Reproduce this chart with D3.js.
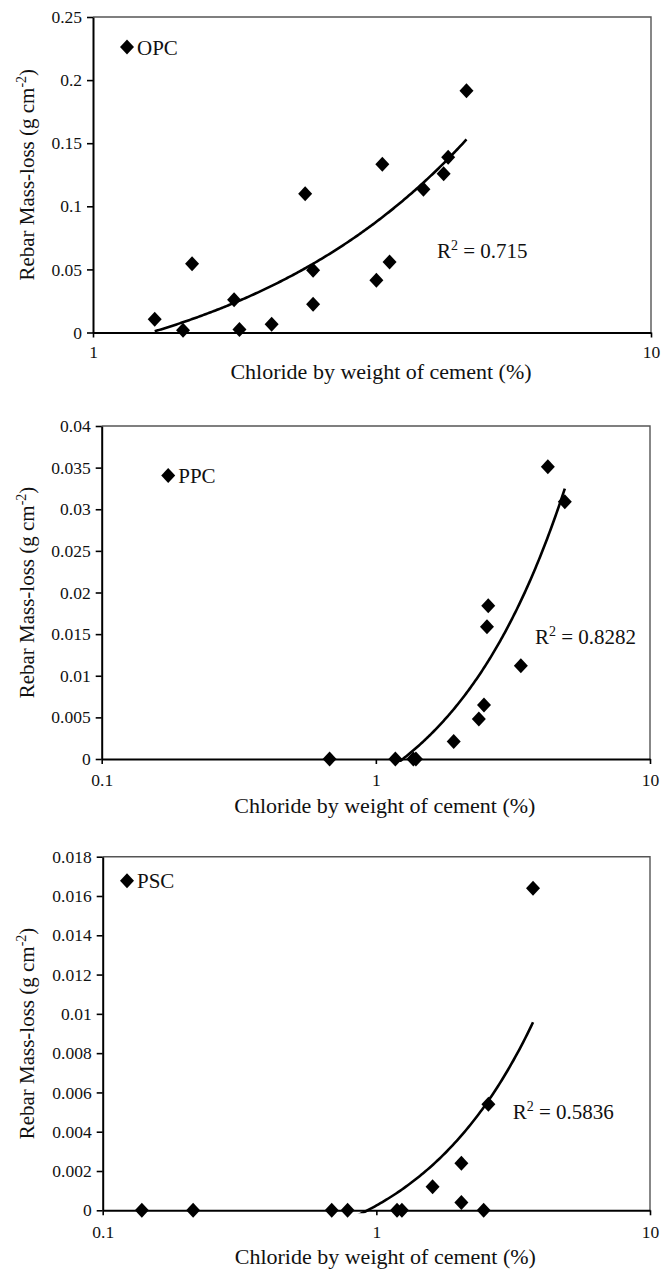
<!DOCTYPE html>
<html>
<head>
<meta charset="utf-8">
<script src="https://cdn.jsdelivr.net/npm/d3@7"></script>
<style>
  html, body { margin: 0; padding: 0; background: #fff; }
  svg { display: block; }
  text { font-family: "Liberation Serif", "Times New Roman", serif; fill: #111; }
</style>
</head>
<body>
<svg id="chart" width="672" height="1269"></svg>
<script>
// Rebar mass loss against chloride content, one panel per cement type.
const cementTypes = ["OPC", "PPC", "PSC"];

const opcChloride = [1.29, 1.45, 1.505, 1.79, 1.83, 2.09, 2.40, 2.48, 2.48, 3.22, 3.30, 3.40, 3.91, 4.25, 4.33, 4.67];
const opcMassLoss = [0.0105, 0.0018, 0.0545, 0.026, 0.0024, 0.0066, 0.110, 0.0493, 0.0224, 0.0414, 0.1333, 0.0558, 0.1135, 0.1257, 0.1388, 0.1915];

const ppcChloride = [0.678, 1.178, 1.37, 1.40, 1.923, 2.375, 2.48, 2.543, 2.57, 3.38, 4.24, 4.89];
const ppcMassLoss = [0, 0, 0, 0, 0.0021, 0.0048, 0.0065, 0.0159, 0.0184, 0.0112, 0.0351, 0.0309];

const pscChloride = [0.139, 0.214, 0.687, 0.785, 1.19, 1.24, 1.605, 2.045, 2.045, 2.467, 2.567, 3.737];
const pscMassLoss = [0, 0, 0, 0, 0, 0, 0.0012, 0.0024, 0.0004, 0, 0.0054, 0.0164];

const r2Labels = ["0.715", "0.8282", "0.5836"];

const opcXTicks = [1, 10];
const ppcXTicks = [0.1, 1, 10];
const pscXTicks = [0.1, 1, 10];
const opcYTicks = [0, 0.05, 0.1, 0.15, 0.2, 0.25];
const ppcYTicks = [0, 0.005, 0.01, 0.015, 0.02, 0.025, 0.03, 0.035, 0.04];
const pscYTicks = [0, 0.002, 0.004, 0.006, 0.008, 0.01, 0.012, 0.014, 0.016, 0.018];

const xTitle = "Chloride by weight of cement (%)";

// Plot frames and annotation placement for each panel
const layout = [
  { l: 93,    r: 651, t: 17,    b: 332.5,  legend: [34, 30],     r2: [437, 250],      titleGap: 46, tickPad: 8 },
  { l: 101.7, r: 650, t: 426,   b: 759,    legend: [66.5, 49.5], r2: [535, 636],      titleGap: 54, tickPad: 10 },
  { l: 102.7, r: 650, t: 856.7, b: 1210.3, legend: [24.3, 24],   r2: [512.7, 1111.6], titleGap: 54, tickPad: 10 }
];

const panels = [
  { name: cementTypes[0], xs: opcChloride, ys: opcMassLoss, xTicks: opcXTicks, yTicks: opcYTicks, r2: r2Labels[0] },
  { name: cementTypes[1], xs: ppcChloride, ys: ppcMassLoss, xTicks: ppcXTicks, yTicks: ppcYTicks, r2: r2Labels[1] },
  { name: cementTypes[2], xs: pscChloride, ys: pscMassLoss, xTicks: pscXTicks, yTicks: pscYTicks, r2: r2Labels[2] }
];

const svg = d3.select("#chart");
svg.append("rect").attr("width", 672).attr("height", 1269).attr("fill", "#fff");

const diamond = "M0,-7.5L7,0L0,7.5L-7,0Z";
const fmtY = d => d === 0 ? "0" : String(+d.toFixed(4));

// Ordinary least-squares line through the points
function linearFit(xs, ys) {
  const n = xs.length;
  const mx = d3.mean(xs), my = d3.mean(ys);
  let sxy = 0, sxx = 0;
  for (let i = 0; i < n; i++) {
    sxy += (xs[i] - mx) * (ys[i] - my);
    sxx += (xs[i] - mx) * (xs[i] - mx);
  }
  const slope = sxy / sxx;
  return { slope, intercept: my - slope * mx };
}

panels.forEach((p, i) => {
  const L = layout[i];
  const x = d3.scaleLog().domain([p.xTicks[0], p.xTicks[p.xTicks.length - 1]]).range([L.l, L.r]);
  const y = d3.scaleLinear().domain([0, p.yTicks[p.yTicks.length - 1]]).range([L.b, L.t]);
  const g = svg.append("g");

  // frame: top and right edges
  g.append("path")
    .attr("d", `M${L.l},${L.t}H${L.r}V${L.b}`)
    .attr("fill", "none").attr("stroke", "#555").attr("stroke-width", 1.4);

  // clip region for the trend line
  const clipId = "clip" + i;
  svg.append("clipPath").attr("id", clipId)
    .append("rect").attr("x", L.l).attr("y", L.t).attr("width", L.r - L.l).attr("height", L.b - L.t + 3);

  // trend line (linear fit drawn on the log axis)
  const fit = linearFit(p.xs, p.ys);
  const x0 = d3.min(p.xs), x1 = d3.max(p.xs);
  const lx = d3.range(0, 201).map(k => Math.exp(Math.log(x0) + (Math.log(x1) - Math.log(x0)) * k / 200));
  g.append("path")
    .datum(lx)
    .attr("clip-path", `url(#${clipId})`)
    .attr("d", d3.line().x(d => x(d)).y(d => y(fit.slope * d + fit.intercept)))
    .attr("fill", "none").attr("stroke", "#000").attr("stroke-width", 2.6);

  // axes
  const ya = g.append("g").attr("transform", `translate(${L.l},0)`)
    .call(d3.axisLeft(y).tickValues(p.yTicks).tickSize(6).tickPadding(5).tickSizeOuter(0).tickFormat(fmtY));
  const xa = g.append("g").attr("transform", `translate(0,${L.b})`)
    .call(d3.axisBottom(x).tickValues(p.xTicks).tickSize(5).tickPadding(L.tickPad).tickSizeOuter(0).tickFormat(d => String(d)));
  [ya, xa].forEach(a => {
    a.select(".domain").attr("stroke", "#000").attr("stroke-width", 2);
    a.selectAll(".tick line").attr("stroke", "#000").attr("stroke-width", 1.6);
    a.selectAll(".tick text")
      .attr("fill", "#111")
      .style("font-family", '"Liberation Serif", "Times New Roman", serif')
      .style("font-size", "17.5px");
  });

  // data points
  g.append("g").selectAll("path")
    .data(p.xs.map((v, k) => [v, p.ys[k]]))
    .join("path")
    .attr("transform", d => `translate(${x(d[0])},${y(d[1])})`)
    .attr("d", diamond)
    .attr("fill", "#000");

  // legend
  const lg = g.append("g").attr("transform", `translate(${L.l + L.legend[0]},${L.t + L.legend[1]})`);
  lg.append("path").attr("d", diamond).attr("fill", "#000");
  lg.append("text").attr("x", 10).attr("y", 7.5)
    .style("font-size", "21px").text(p.name);

  // R² annotation
  const rt = g.append("text").attr("x", L.r2[0]).attr("y", L.r2[1] + 7.5)
    .style("font-size", "21px");
  rt.append("tspan").text("R");
  rt.append("tspan").attr("dy", -8).style("font-size", "14px").text("2");
  rt.append("tspan").attr("dy", 8).text(" = " + p.r2);

  // x-axis title
  g.append("text")
    .attr("x", (L.l + L.r) / 2 + 9).attr("y", L.b + L.titleGap)
    .attr("text-anchor", "middle")
    .style("font-size", "22px")
    .text(xTitle);

  // y-axis title
  const yt = g.append("text")
    .attr("transform", `translate(34,${(L.t + L.b) / 2}) rotate(-90)`)
    .attr("text-anchor", "middle")
    .style("font-size", "21px");
  yt.append("tspan").text("Rebar Mass-loss (g cm");
  yt.append("tspan").attr("dy", -8).style("font-size", "14px").text("-2");
  yt.append("tspan").attr("dy", 8).text(")");
});
</script>
</body>
</html>
